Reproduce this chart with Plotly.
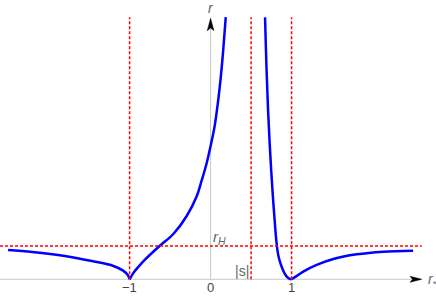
import plotly.graph_objects as go

# ---- data (r vs r_*) ----
# left outer branch (r_* < -1)
xa = [-2.5, -2.2, -1.8, -1.45, -1.2, -1.08, -1.02, -1.0]
ra = [0.88, 0.82, 0.70, 0.54, 0.40, 0.26, 0.12, 0.0]
# branch between -1 and the asymptote
xb = [-1.0, -0.95, -0.9, -0.81, -0.63, -0.46, -0.295, -0.17, -0.11, -0.05, 0.0, 0.05, 0.09, 0.125, 0.155, 0.187]
rb = [0.0, 0.2, 0.35, 0.59, 1.0, 1.36, 1.9, 2.5, 2.97, 3.47, 4.0, 4.6, 5.3, 6.05, 6.85, 7.87]
# branch between the asymptote and 1
xc = [0.672, 0.69, 0.71, 0.73, 0.75, 0.77, 0.79, 0.81, 0.83, 0.85, 0.88, 0.91, 0.94, 0.97, 1.0]
rc = [7.87, 6.35, 5.05, 4.05, 3.2, 2.45, 1.8, 1.2, 0.8, 0.58, 0.36, 0.19, 0.08, 0.02, 0.0]
# right outer branch (r_* > 1)
xd = [1.0, 1.07, 1.144, 1.31, 1.515, 1.804, 2.132, 2.5]
rd = [0.0, 0.11, 0.23, 0.43, 0.61, 0.75, 0.83, 0.86]

vlines = [-1.0, 0.5, 1.0]
r_h = 1.0
tick_vals = [-1, 0, 1]
tick_text = ["\u22121", "0", "1"]

X0, X1 = -2.600, 2.783
Y0, Y1 = -0.502, 8.387
RTOP = 7.87
XARR_TIP, XARR_BASE = 2.607, 2.463
YARR_TIP, YARR_BASE = 7.84, 7.465

fig = go.Figure()

# axes (gray lines)
fig.add_trace(go.Scatter(x=[X0, XARR_BASE + 0.02], y=[0, 0], mode="lines",
                         line=dict(color="#c8c8c8", width=1), hoverinfo="skip"))
fig.add_trace(go.Scatter(x=[0, 0], y=[0, YARR_BASE + 0.05], mode="lines",
                         line=dict(color="#c8c8c8", width=1), hoverinfo="skip"))
# arrow heads
hw_x = 0.09
fig.add_trace(go.Scatter(x=[XARR_TIP, XARR_BASE, XARR_BASE + 0.03, XARR_BASE, XARR_TIP],
                         y=[0, hw_x, 0, -hw_x, 0], mode="lines", fill="toself",
                         fillcolor="black", line=dict(color="black", width=0.5), hoverinfo="skip"))
hw_y = 0.041
fig.add_trace(go.Scatter(x=[0, hw_y, 0, -hw_y, 0],
                         y=[YARR_TIP, YARR_BASE, YARR_BASE + 0.08, YARR_BASE, YARR_TIP], mode="lines", fill="toself",
                         fillcolor="black", line=dict(color="black", width=0.5), hoverinfo="skip"))

# curve
for xs, ys in [(xa, ra), (xb, rb), (xc, rc), (xd, rd)]:
    fig.add_trace(go.Scatter(x=xs, y=ys, mode="lines",
                             line=dict(color="#0000ff", width=2.5, shape="spline", smoothing=1),
                             hoverinfo="skip"))

RED = "#ff0000"
shapes = []
for v in vlines:
    shapes.append(dict(type="line", x0=v, x1=v, y0=0, y1=RTOP, xref="x", yref="y",
                       line=dict(color=RED, width=1.5, dash="3px,2px"), layer="above"))
shapes.append(dict(type="line", x0=X0, x1=XARR_TIP, y0=r_h, y1=r_h, xref="x", yref="y",
                   line=dict(color=RED, width=1.5, dash="3px,2px"), layer="above"))

font = "Liberation Sans, Arial, sans-serif"
ann = []
for v, t in zip(tick_vals, tick_text):
    ann.append(dict(x=v, y=-0.26, text=t, showarrow=False, xanchor="center", yanchor="middle",
                    font=dict(family=font, size=13, color="#444444")))
ann.append(dict(x=0, y=8.15, text="<i>r</i>", showarrow=False, xanchor="center", yanchor="middle",
                font=dict(family=font, size=14, color="#666666")))
ann.append(dict(x=0.115, y=1.26, text="<i>r</i><sub><i>H</i></sub>", showarrow=False,
                xanchor="center", yanchor="middle", font=dict(family=font, size=15, color="#666666")))
ann.append(dict(x=0.385, y=0.25, text="|s|", showarrow=False, xanchor="center", yanchor="middle",
                font=dict(family=font, size=14, color="#666666")))
ann.append(dict(x=2.66, y=-0.02, text="<i>r</i><sub>*</sub>", showarrow=False,
                xanchor="left", yanchor="middle", font=dict(family=font, size=14, color="#666666")))

fig.update_layout(
    width=436, height=296,
    margin=dict(l=0, r=0, t=0, b=0),
    paper_bgcolor="white", plot_bgcolor="white",
    showlegend=False,
    xaxis=dict(range=[X0, X1], visible=False, fixedrange=True),
    yaxis=dict(range=[Y0, Y1], visible=False, fixedrange=True),
    shapes=shapes,
    annotations=ann,
)

fig.write_html("out.html", config={"displayModeBar": False},
               post_script="document.body.style.margin='0px';document.body.style.overflow='hidden';")
